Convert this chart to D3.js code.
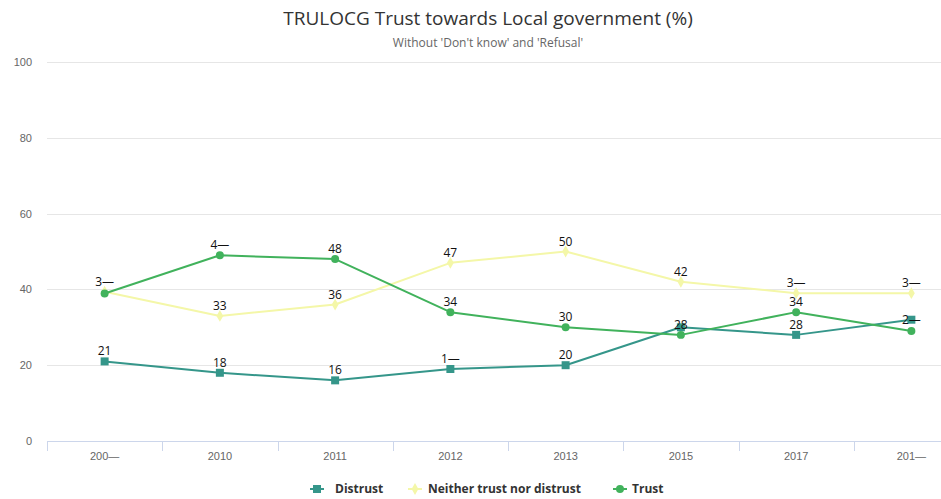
<!DOCTYPE html>
<html>
<head>
<meta charset="utf-8">
<script src="https://cdn.jsdelivr.net/npm/d3@7/dist/d3.min.js"></script>
<style>
  html, body { margin: 0; padding: 0; background: #fff; }
  svg { display: block; font-family: "Open Sans", "Liberation Sans", sans-serif; }
</style>
</head>
<body>
<svg id="chart" width="941" height="499"></svg>
<script>
// Survey years (two labels are truncated in the source table)
const years = ["200\u2014", "2010", "2011", "2012", "2013", "2015", "2017", "201\u2014"];

// Shares in percent, 'Don't know' and 'Refusal' excluded
const distrust = [21, 18, 16, 19, 20, 30, 28, 32];
const neither  = [39.4, 33, 36, 47, 50, 42, 39, 39];
const trust    = [38.9, 49, 48, 34, 30, 28, 34, 29];

// Value labels as printed on the chart (null = not shown)
const distrustLabels = ["21", "18", "16", "1\u2014", "20", null, "28", "2\u2014"];
const neitherLabels  = ["3\u2014", "33", "36", "47", "50", "42", "3\u2014", "3\u2014"];
const trustLabels    = [null, "4\u2014", "48", "34", "30", "28", "34", null];

const yTicks = [0, 20, 40, 60, 80, 100];

const series = [
  { name: "Distrust", values: distrust, labels: distrustLabels, color: "#35968a", symbol: "square" },
  { name: "Neither trust nor distrust", values: neither, labels: neitherLabels, color: "#f4f7a8", symbol: "diamond" },
  { name: "Trust", values: trust, labels: trustLabels, color: "#41b25c", symbol: "circle" }
];

const svg = d3.select("#chart");
const plot = { left: 47, right: 969, top: 62, bottom: 441 };

const x = d3.scaleBand().domain(years).range([plot.left, plot.right]);
const y = d3.scaleLinear().domain([0, 100]).range([plot.bottom, plot.top]);
const cx = d => x(d) + x.bandwidth() / 2;

// Title and subtitle
svg.append("text").attr("x", 488).attr("y", 25).attr("text-anchor", "middle")
  .attr("fill", "#333").style("font-size", "19px").text("TRULOCG Trust towards Local government (%)");
svg.append("text").attr("x", 488).attr("y", 47).attr("text-anchor", "middle")
  .attr("fill", "#666").style("font-size", "12px").text("Without 'Don't know' and 'Refusal'");

// Horizontal grid
svg.append("g").selectAll("line").data(yTicks.filter(t => t > 0)).join("line")
  .attr("x1", plot.left).attr("x2", 941)
  .attr("y1", d => Math.round(y(d)) + 0.5).attr("y2", d => Math.round(y(d)) + 0.5)
  .attr("stroke", "#e6e6e6").attr("stroke-width", 1);

// Y axis labels
const yAxis = d3.axisLeft(y).tickValues(yTicks).tickSize(0).tickPadding(0);
const gy = svg.append("g").attr("transform", `translate(${plot.left - 15},0)`).call(yAxis);
gy.select(".domain").remove();
gy.selectAll("text").attr("fill", "#666").style("font-size", "11px")
  .style("font-family", "inherit").attr("dy", "0.32em");

// X axis
const xAxis = d3.axisBottom(x).tickSize(0).tickPadding(0);
const gx = svg.append("g").attr("transform", `translate(0,${plot.bottom})`).call(xAxis);
gx.select(".domain").remove();
gx.selectAll("text").attr("fill", "#666").style("font-size", "11px")
  .style("font-family", "inherit").attr("y", 19).attr("dy", 0);
svg.append("line").attr("x1", plot.left).attr("x2", 941)
  .attr("y1", plot.bottom + 0.5).attr("y2", plot.bottom + 0.5)
  .attr("stroke", "#ccd6eb").attr("stroke-width", 1);
svg.append("g").selectAll("line").data(years).join("line")
  .attr("x1", d => Math.round(x(d)) + 0.5).attr("x2", d => Math.round(x(d)) + 0.5)
  .attr("y1", plot.bottom).attr("y2", plot.bottom + 10)
  .attr("stroke", "#ccd6eb").attr("stroke-width", 1);

const symbolType = { square: d3.symbolSquare, diamond: d3.symbolDiamond, circle: d3.symbolCircle };
const symbolSize = { square: 64, diamond: 40, circle: 50 };

const line = d3.line().x((d, i) => cx(years[i])).y(d => y(d));

series.forEach(s => {
  const g = svg.append("g");
  g.append("path").datum(s.values).attr("d", line)
    .attr("fill", "none").attr("stroke", s.color).attr("stroke-width", 2)
    .attr("stroke-linejoin", "round");
  g.selectAll("path.mark").data(s.values).join("path").attr("class", "mark")
    .attr("transform", (d, i) => `translate(${cx(years[i])},${y(d)})`)
    .attr("d", d3.symbol().type(symbolType[s.symbol]).size(symbolSize[s.symbol]))
    .attr("fill", s.color);
});

// Value labels
series.forEach(s => {
  svg.append("g").selectAll("text").data(s.values.map((v, i) => ({ v, i, t: s.labels[i] })).filter(d => d.t))
    .join("text")
    .attr("x", d => cx(years[d.i]))
    .attr("y", d => (s.name === "Distrust" && d.i === years.length - 1) ? y(d.v) + 4 : y(d.v) - 6)
    .attr("text-anchor", "middle").attr("fill", "#111").style("font-size", "12px")
    .text(d => d.t);
});

// Legend
const legendItems = [
  { s: series[0], mx: 317, tx: 335 },
  { s: series[1], mx: 415, tx: 428 },
  { s: series[2], mx: 620, tx: 632 }
];
const lg = svg.append("g");
legendItems.forEach(it => {
  lg.append("line").attr("x1", it.mx - 7).attr("x2", it.mx + 7).attr("y1", 489).attr("y2", 489)
    .attr("stroke", it.s.color).attr("stroke-width", 2);
  lg.append("path").attr("transform", `translate(${it.mx},489)`)
    .attr("d", d3.symbol().type(symbolType[it.s.symbol]).size(symbolSize[it.s.symbol]))
    .attr("fill", it.s.color);
  lg.append("text").attr("x", it.tx).attr("y", 493).attr("fill", "#333")
    .style("font-size", "12px").style("font-weight", "bold").text(it.s.name);
});
</script>
</body>
</html>
